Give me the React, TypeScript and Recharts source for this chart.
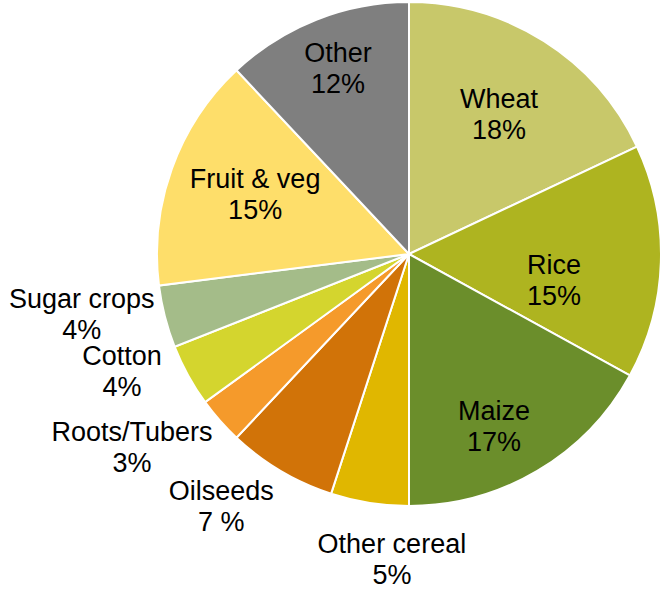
import { PieChart, Pie, Cell } from "recharts";

const crops = ["Wheat", "Rice", "Maize", "Other cereal", "Oilseeds", "Roots/Tubers", "Cotton", "Sugar crops", "Fruit & veg", "Other"];
const shares = [18, 15, 17, 5, 7, 3, 4, 4, 15, 12];
const shareLabels = ["18%", "15%", "17%", "5%", "7 %", "3%", "4%", "4%", "15%", "12%"];

const COLORS = ["#C8C86A", "#AEB420", "#6B8E2B", "#E0B700", "#D17308", "#F59A2B", "#D4D52E", "#A4BC89", "#FEDE6A", "#7F7F7F"];

// label placement: radius as fraction of outer radius, clockwise angle nudge in degrees
const LABEL_POS: Record<string, { r: number; da: number }> = {
    "Wheat": { r: 0.657, da: 0.5 },
    "Rice": { r: 0.585, da: 8.4 },
    "Maize": { r: 0.762, da: 4.3 },
    "Other cereal": { r: 1.216, da: -5.8 },
    "Oilseeds": { r: 1.25, da: 6 },
    "Roots/Tubers": { r: 1.34, da: 6.5 },
    "Cotton": { r: 1.23, da: 6.6 },
    "Sugar crops": { r: 1.32, da: 4 },
    "Fruit & veg": { r: 0.654, da: 1.2 },
    "Other": { r: 0.79, da: 0.7 },
};

const data = crops.map((name, i) => ({ name, value: shares[i], pct: shareLabels[i] }));

const RAD = Math.PI / 180;

const renderLabel = (props: any) => {
    const { cx, cy, midAngle, outerRadius, index } = props;
    const d = data[index];
    const pos = LABEL_POS[d.name];
    const ang = (midAngle - pos.da) * RAD;
    const r = outerRadius * pos.r;
    const x = cx + r * Math.cos(ang);
    const y = cy - r * Math.sin(ang);
    return (
        <text x={x} y={y} textAnchor="middle" fill="#000" fontSize={27} fontFamily="'Liberation Sans', Arial, sans-serif">
            <tspan x={x} y={y - 15.5} dominantBaseline="central">{d.name}</tspan>
            <tspan x={x} y={y + 15.5} dominantBaseline="central">{d.pct}</tspan>
        </text>
    );
};

export default function App() {
    return (
        <div style={{ position: "absolute", left: 0, top: 0, width: 661, height: 590, background: "#fff" }}>
            <PieChart width={661} height={590} margin={{ top: 0, right: 0, bottom: 0, left: 0 }}>
                <Pie
                    data={data}
                    dataKey="value"
                    nameKey="name"
                    cx={409}
                    cy={254}
                    outerRadius={252}
                    startAngle={90}
                    endAngle={-270}
                    stroke="#fff"
                    strokeWidth={2}
                    label={renderLabel}
                    labelLine={false}
                    isAnimationActive={false}
                >
                    {data.map((_, i) => (
                        <Cell key={`cell-${i}`} fill={COLORS[i]} />
                    ))}
                </Pie>
            </PieChart>
        </div>
    );
}
